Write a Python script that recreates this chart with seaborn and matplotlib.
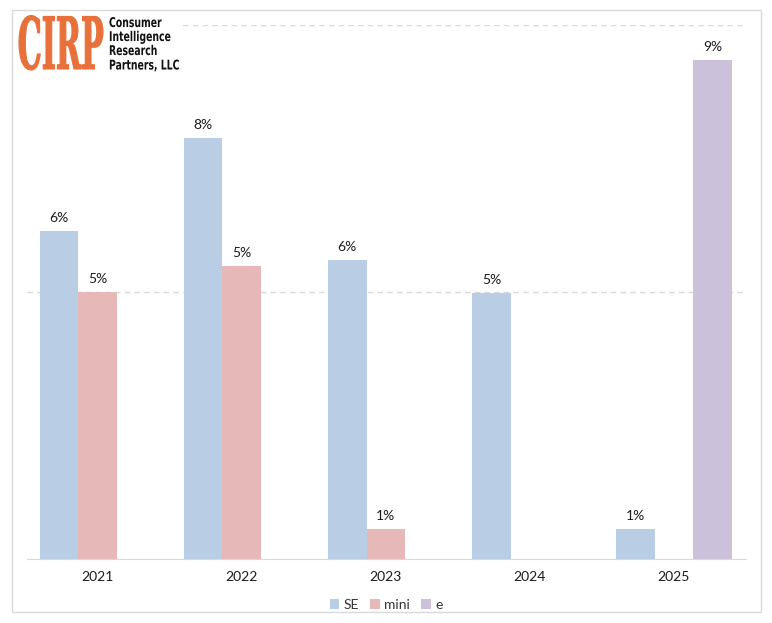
import seaborn as sns
import matplotlib.pyplot as plt
import pandas as pd
from matplotlib.patches import Rectangle, PathPatch
from matplotlib.textpath import TextPath
from matplotlib.font_manager import FontProperties
from matplotlib.transforms import Affine2D

# share of units, percent
years = ["2021", "2022", "2023", "2024", "2025"]
models = ["SE", "mini", "e"]
se_share = [6.14, 7.89, 5.59, 4.98, 0.55]
mini_share = [5.0, 5.48, 0.55, None, None]
e_share = [None, None, None, None, 9.34]
colors = ["#B9CDE5", "#E6B9B8", "#CCC1DA"]

rows = []
for model, vals in zip(models, [se_share, mini_share, e_share]):
    for year, v in zip(years, vals):
        if v is not None:
            rows.append({"year": year, "model": model, "share": v})
df = pd.DataFrame(rows)

sns.set_style("white")
plt.rcParams["font.family"] = ["Lato", "DejaVu Sans"]

W, H = 772, 623
fig = plt.figure(figsize=(W / 100, H / 100), dpi=100)
ax = fig.add_axes([27 / W, 1 - 558.5 / H, (746 - 27) / W, (558.5 - 25) / H])

sns.barplot(data=df, x="year", y="share", hue="model", order=years,
            hue_order=models, palette=colors, width=0.8, saturation=1,
            linewidth=0, ax=ax)

for c in ax.containers:
    ax.bar_label(c, fmt=lambda v: f"{v:.0f}%", padding=5, fontsize=10, color="#1a1a1a")

ax.set_ylim(0, 10)
ax.set_xlim(-0.49, 4.5)
ax.set_yticks([5, 10])
ax.set_yticklabels([])
ax.grid(axis="y", color="#D9D9D9", linestyle=(0, (4, 3)), linewidth=1)
ax.set_axisbelow(True)
for s in ["left", "right", "top"]:
    ax.spines[s].set_visible(False)
ax.spines["bottom"].set_color("#D9D9D9")
ax.tick_params(axis="x", length=0, pad=9, labelsize=10, labelcolor="#1a1a1a")
ax.tick_params(axis="y", length=0)
ax.set_xlabel("")
ax.set_ylabel("")

handles, labels = ax.get_legend_handles_labels()
ax.legend(handles, labels, loc="center", bbox_to_anchor=(0.5, 1 - 605 / H),
          bbox_transform=fig.transFigure, ncol=3, frameon=False,
          handlelength=0.7, handleheight=0.7, handletextpad=0.3,
          columnspacing=0.8, fontsize=10, labelcolor="#333333")

# chart border
fig.add_artist(Rectangle((12 / W, 1 - 612 / H), (761 - 12) / W, (612 - 10) / H,
                         transform=fig.transFigure, fill=False,
                         edgecolor="#D9D9D9", linewidth=1))

# logo block
fig.add_artist(Rectangle((14 / W, 1 - 80 / H), (182 - 14) / W, (80 - 12) / H,
                         transform=fig.transFigure, facecolor="white",
                         edgecolor="none"))
tp = TextPath((0, 0), "CIRP", size=50,
              prop=FontProperties(family="DejaVu Serif", weight="bold"))
ext = tp.get_extents()
x0, x1, y0, y1 = 19 / W, 103 / W, 1 - 70 / H, 1 - 15.5 / H
tr = (Affine2D().translate(-ext.x0, -ext.y0)
      .scale((x1 - x0) / ext.width, (y1 - y0) / ext.height)
      .translate(x0, y0))
fig.add_artist(PathPatch(tr.transform_path(tp), transform=fig.transFigure,
                         facecolor="#E8703A", edgecolor="#E8703A", linewidth=0.8))

# company name, narrow bold lines
name_lines = ["Consumer", "Intelligence", "Research", "Partners, LLC"]
baselines = [27, 41, 55, 69.5]
fp = FontProperties(family="DejaVu Sans", weight="bold")
ref_w = TextPath((0, 0), "Partners, LLC", size=10, prop=fp).get_extents().width
cap_h = TextPath((0, 0), "H", size=10, prop=fp).get_extents().height
sx = 69 / ref_w
sy = 9.8 / cap_h
for line, base in zip(name_lines, baselines):
    p = TextPath((0, 0), line, size=10, prop=fp)
    t = Affine2D().scale(sx, sy).translate(109, H - base).scale(1 / W, 1 / H)
    fig.add_artist(PathPatch(t.transform_path(p), transform=fig.transFigure,
                             facecolor="#111111", edgecolor="none"))

fig.savefig("out.png", dpi=100)
